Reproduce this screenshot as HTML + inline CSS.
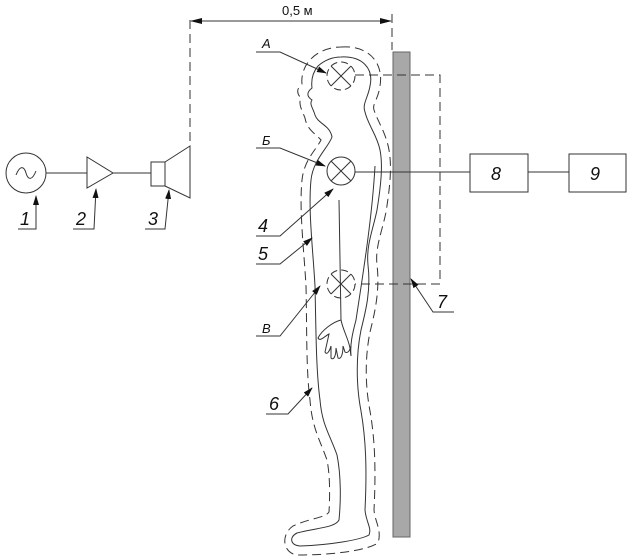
<!DOCTYPE html>
<html><head><meta charset="utf-8"><style>
html,body{margin:0;padding:0;background:#fff;}
svg{display:block;}
text{font-family:"Liberation Sans",sans-serif;font-style:italic;fill:#111;}
</style></head><body>
<svg width="631" height="559" viewBox="0 0 631 559" xmlns="http://www.w3.org/2000/svg">
<defs>
<marker id="ar" markerWidth="10" markerHeight="6" refX="9" refY="3" orient="auto" markerUnits="userSpaceOnUse">
<path d="M0,0 L10,3 L0,6 Z" fill="#111"/></marker>
<marker id="ar2" markerWidth="12" markerHeight="6" refX="11" refY="3" orient="auto-start-reverse" markerUnits="userSpaceOnUse">
<path d="M0,0 L12,3 L0,6 Z" fill="#111"/></marker>
</defs>
<g stroke="#333" stroke-width="1" fill="none">
<line x1="190" y1="20" x2="190" y2="146" stroke-dasharray="9,5"/>
<line x1="392" y1="14" x2="392" y2="50" stroke-dasharray="9,5"/>
<line x1="191" y1="21" x2="391" y2="21" marker-start="url(#ar2)" marker-end="url(#ar2)"/>
<circle cx="26" cy="173" r="20"/>
<path d="M16,175 C20,165 24,166 26,173 C28,180 32,181 36,171"/>
<line x1="46" y1="173" x2="87" y2="173"/>
<polygon points="87,157 87,188 113,173"/>
<line x1="113" y1="173" x2="151" y2="173"/>
<rect x="151" y="162" width="14" height="24"/>
<polygon points="165,162 190,146 190,198 165,186"/>
<polyline points="18,229 36,229 36,196" marker-end="url(#ar)"/>
<polyline points="73,229 94,229 96,189" marker-end="url(#ar)"/>
<polyline points="145,229 165,229 169,190" marker-end="url(#ar)"/>
<rect x="393" y="52" width="17" height="485" fill="#a8a8a8" stroke="#666"/>
<path d="M341,57 C362,56 374,68 370,86 C368,98 362,104 365,112 C368,125 377,135 380,150 C383,165 381,185 377,210 C373,230 366,245 368,265 C371,290 366,310 361,330 C356,355 356,385 361,411 C366,440 367,470 365,510 C366,522 372,528 369,535 C360,540 330,545 300,546 C290,545 289,537 297,533 C315,528 335,528 339,520 C341,500 341,475 337,455 C330,435 322,425 320,400 C316,370 316,330 315,286 C313,250 308,210 311,180 C313,160 328,148 332,137 C330,125 318,124 315,115 C313,108 309,104 312,100 C306,96 307,92 312,88 C311,80 313,72 318,66 C326,59 334,57 341,57 Z"/>
<path d="M339,200 L341,320 C343,330 348,338 350,348 L351,356"/>
<path d="M375,166 C372,220 362,280 356,320 C352,335 350,345 351,356"/>
<path d="M341,320 C333,322 322,330 318,338 C320,342 325,336 329,334 L325,352 C327,356 330,350 331,346 L331,358 C334,361 336,355 336,348 L338,358 C341,360 343,354 343,346 L345,352 C348,354 350,350 351,346"/>
<path stroke-dasharray="9,5" d="M341,47 C368,45 384,62 380,86 C378,100 372,104 374,110 C378,122 386,133 389,150 C392,167 390,187 386,212 C382,232 375,247 377,265 C380,290 375,312 370,332 C365,357 365,385 370,411 C375,440 376,470 374,510 C375,522 382,530 378,543 C366,551 330,555 298,555 C283,554 280,535 293,526 C310,518 325,518 329,512 C330,495 330,475 327,460 C320,440 312,428 310,400 C306,370 307,330 306,286 C304,250 299,210 302,180 C304,160 316,150 321,140 C316,134 307,130 305,118 C302,110 298,104 301,98 C296,93 297,88 302,84 C301,76 304,66 310,60 C318,51 330,47 341,47 Z"/>
<g stroke-dasharray="7,4"><circle cx="341" cy="76" r="14"/><circle cx="341" cy="284" r="14"/></g>
<path d="M331,66 L351,86 M351,66 L331,86 M331,274 L351,294 M351,274 L331,294"/>
<circle cx="341" cy="171" r="14"/>
<path d="M331,161 L351,181 M351,161 L331,181"/>
<line x1="355" y1="172" x2="470" y2="172"/>
<polyline points="355,75 440,75 440,284 355,284" stroke-dasharray="9,5"/>
<rect x="470" y="154" width="58" height="38"/>
<line x1="528" y1="172" x2="569" y2="172"/>
<rect x="569" y="154" width="57" height="38"/>
<polyline points="256,52 280,52 326,73" marker-end="url(#ar)"/>
<polyline points="256,148 280,148 325,166" marker-end="url(#ar)"/>
<polyline points="256,236 280,236 333,189" marker-end="url(#ar)"/>
<polyline points="256,264 280,264 312,238" marker-end="url(#ar)"/>
<polyline points="256,336 280,336 320,286" marker-end="url(#ar)"/>
<polyline points="266,414 288,414 312,388" marker-end="url(#ar)"/>
<polyline points="454,312 433,312 411,279" marker-end="url(#ar)"/>
</g>
<g font-size="18">
<text x="20" y="225">1</text>
<text x="76" y="225">2</text>
<text x="148" y="225">3</text>
<text x="258" y="232">4</text>
<text x="258" y="260">5</text>
<text x="269" y="410">6</text>
<text x="437" y="308">7</text>
<text x="491" y="180">8</text>
<text x="590" y="180">9</text>
</g>
<g font-size="13">
<text x="262" y="48">А</text>
<text x="262" y="145">Б</text>
<text x="262" y="333">В</text>
</g>
<text x="282" y="15" font-size="13" style="font-style:normal">0,5 м</text>
</svg>
</body></html>
